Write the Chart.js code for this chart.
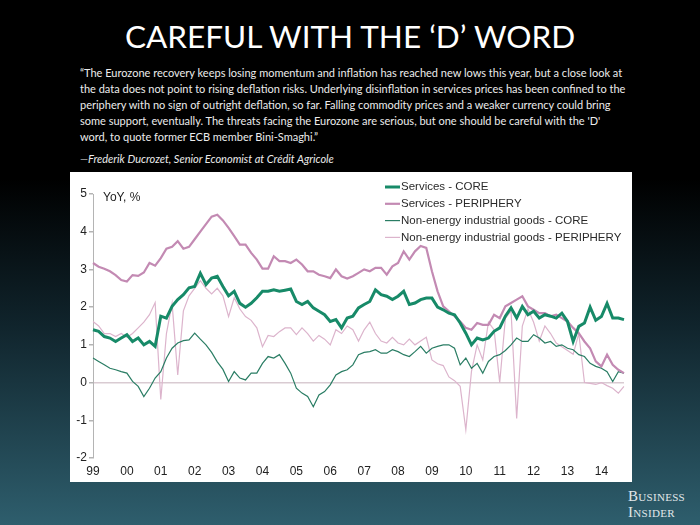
<!DOCTYPE html>
<html>
<head>
<meta charset="utf-8">
<script src="https://cdn.jsdelivr.net/npm/chart.js@4.4.0/dist/chart.umd.min.js"></script>
<style>
  html, body { margin: 0; padding: 0; }
  body {
    width: 700px; height: 525px; overflow: hidden; position: relative;
    background: linear-gradient(to bottom, #000 0%, #000 34%, #10242c 62%, #2e5e6d 100%);
    font-family: Lato, "Open Sans", sans-serif;
  }
  #title { position: absolute; top: 17px; left: 0; width: 700px; text-align: center; color: #fff; font-size: 31.5px; }
  #quote { position: absolute; left: 80px; top: 65px; color: #ececec; font-size: 11px; line-height: 16px; white-space: nowrap; }
  #source { position: absolute; left: 80px; top: 152px; color: #ececec; font-size: 11px; font-style: italic; }
  #panel { position: absolute; left: 70px; top: 172px; width: 562px; height: 310px; background: #fff; }
  #logo {
    position: absolute; left: 628px; top: 488px; color: #e2e8ea;
    font-family: "Liberation Serif", "DejaVu Serif", serif; font-variant: small-caps;
    font-size: 15px; line-height: 16px; letter-spacing: 0.3px;
  }
</style>
</head>
<body>
<div id="title">CAREFUL WITH THE ‘D’ WORD</div>
<div id="quote">“The Eurozone recovery keeps losing momentum and inflation has reached new lows this year, but a close look at<br>
the data does not point to rising deflation risks. Underlying disinflation in services prices has been confined to the<br>
periphery with no sign of outright deflation, so far. Falling commodity prices and a weaker currency could bring<br>
some support, eventually. The threats facing the Eurozone are serious, but one should be careful with the 'D'<br>
word, to quote former ECB member Bini-Smaghi.”</div>
<div id="source">—Frederik Ducrozet, Senior Economist at Crédit Agricole</div>
<div id="panel"><canvas id="grafico" width="562" height="310"></canvas></div>
<div id="logo">Business<br>Insider</div>

<script>
// categorias: cada dos meses, ene 1999 - sep 2014
const years = ['99','00','01','02','03','04','05','06','07','08','09','10','11','12','13','14'];
const months = ['Jan','Mar','May','Jul','Sep','Nov'];

// valores YoY, %
const servicesCore = [
  1.40, 1.36, 1.22, 1.18, 1.09, 1.18,
  1.27, 1.09, 1.18, 1.00, 1.09, 0.96,
  1.76, 1.71, 2.02, 2.20, 2.33, 2.51,
  2.55, 2.90, 2.60, 2.77, 2.82, 2.55,
  2.30, 2.42, 2.10, 2.00, 2.10, 2.25,
  2.42, 2.42, 2.46, 2.42, 2.45, 2.48,
  2.15, 2.07, 2.15, 1.98, 1.89, 1.80,
  1.62, 1.67, 1.45, 1.71, 1.76, 1.98,
  2.07, 2.15, 2.46, 2.33, 2.29, 2.20,
  2.29, 2.42, 2.07, 2.11, 2.20, 2.24,
  2.24, 2.00, 1.93, 1.84, 1.80, 1.58,
  1.31, 1.00, 1.18, 1.13, 1.18, 1.36,
  1.45, 1.76, 1.98, 1.71, 2.02, 1.80,
  1.89, 1.71, 1.80, 1.76, 1.71, 1.84,
  1.62, 1.09, 1.49, 1.58, 2.00, 1.65,
  1.75, 2.10, 1.71, 1.71, 1.67
];
const servicesPeriphery = [
  3.17, 3.07, 3.02, 2.95, 2.85, 2.72,
  2.68, 2.85, 2.83, 2.92, 3.17, 3.10,
  3.30, 3.55, 3.60, 3.75, 3.55, 3.60,
  3.80, 4.00, 4.20, 4.40, 4.45, 4.30,
  4.10, 3.88, 3.66, 3.66, 3.44, 3.26,
  3.02, 3.02, 3.35, 3.22, 3.22, 3.17,
  3.26, 3.13, 2.95, 2.95, 2.86, 2.82,
  2.77, 3.00, 2.82, 2.76, 2.82, 2.91,
  3.00, 2.95, 3.04, 3.04, 2.86, 3.08,
  3.17, 3.48, 3.26, 3.48, 3.62, 3.57,
  2.95, 2.42, 2.02, 1.89, 1.76, 1.62,
  1.45, 1.40, 1.58, 1.53, 1.53, 1.80,
  1.71, 2.02, 2.11, 2.20, 2.29, 2.02,
  1.93, 1.84, 1.84, 1.76, 1.80, 1.71,
  1.62, 1.45, 1.31, 1.09, 0.91, 0.56,
  0.43, 0.74, 0.47, 0.34, 0.25
];
const goodsCore = [
  0.65, 0.56, 0.47, 0.38, 0.34, 0.29,
  0.25, 0.03, -0.10, -0.37, -0.15, 0.12,
  0.29, 0.65, 0.91, 1.05, 1.11, 1.13,
  1.31, 1.15, 1.00, 0.80, 0.55, 0.35,
  0.03, 0.29, 0.12, 0.07, 0.25, 0.25,
  0.51, 0.69, 0.65, 0.74, 0.51, 0.25,
  -0.15, -0.28, -0.37, -0.64, -0.33, -0.24,
  -0.06, 0.20, 0.29, 0.34, 0.47, 0.74,
  0.80, 0.82, 0.87, 0.78, 0.78, 0.87,
  0.82, 0.74, 0.69, 0.82, 0.96, 0.78,
  0.91, 0.96, 1.00, 1.00, 0.91, 0.47,
  0.65, 0.38, 0.51, 0.25, 0.56, 0.69,
  0.74, 0.85, 1.00, 1.18, 1.09, 1.09,
  1.27, 1.18, 1.05, 1.09, 0.96, 1.00,
  0.91, 0.87, 0.74, 0.69, 0.51, 0.43,
  0.38, 0.29, 0.03, 0.29, 0.25
];
const goodsPeriphery = [
  1.62, 1.50, 1.30, 1.30, 1.22, 1.30,
  1.20, 1.30, 1.45, 1.60, 1.80, 2.12,
  -0.45, 1.30, 2.10, 0.20, 1.90, 2.30,
  2.50, 2.70, 2.50, 2.35, 2.50, 2.30,
  1.75, 2.25, 1.95, 1.75, 1.65, 1.45,
  0.95, 1.25, 1.22, 1.35, 1.45, 1.45,
  1.27, 1.45, 1.30, 1.10, 1.25, 1.15,
  1.00, 1.40, 1.30, 1.50, 1.40, 1.10,
  1.40, 1.60, 1.30, 1.10, 1.05, 1.20,
  1.05, 1.00, 1.15, 1.00, 1.10, 1.20,
  0.60, 0.50, 0.45, 0.15, 0.05, -0.10,
  -1.25, 0.30, 1.00, 0.60, 1.60, 1.40,
  0.00, 1.70, 1.90, -0.95, 1.50, 1.95,
  1.60, 1.10, 1.50, 1.30, 1.05, 0.95,
  0.85, 0.75, 1.30, 0.00, -0.02, -0.05,
  0.00, -0.08, -0.15, -0.28, -0.10
];

const etiquetas = [];
years.forEach(function(y){ months.forEach(function(m){ etiquetas.push(m + ' ' + y); }); });
etiquetas.length = servicesCore.length;

const fuente = '"Liberation Sans", Arial, sans-serif';

// leyenda dentro del grafico + "YoY, %"
const leyenda = {
  id: 'leyenda',
  afterDraw: function(chart){
    const ctx = chart.ctx;
    const area = chart.chartArea;
    ctx.save();
    ctx.font = '12px ' + fuente;
    ctx.textBaseline = 'middle';
    ctx.fillStyle = '#222';
    ctx.fillText('YoY, %', area.left + 10, area.top + 4);
    ctx.font = '11.5px ' + fuente;
    chart.data.datasets.forEach(function(ds, i){
      const y = 15 + i * 16.8;
      ctx.strokeStyle = ds.borderColor;
      ctx.lineWidth = ds.borderWidth;
      ctx.beginPath();
      ctx.moveTo(315, y);
      ctx.lineTo(330, y);
      ctx.stroke();
      ctx.fillStyle = '#2a2a2a';
      ctx.fillText(ds.label, 331, y);
    });
    ctx.restore();
  }
};

const config = {
  type: 'line',
  data: {
    labels: etiquetas,
    datasets: [
      { label: 'Services - CORE', data: servicesCore, borderColor: '#178a68', borderWidth: 3 },
      { label: 'Services - PERIPHERY', data: servicesPeriphery, borderColor: '#c38ab3', borderWidth: 2.2 },
      { label: 'Non-energy industrial goods - CORE', data: goodsCore, borderColor: '#2a7d64', borderWidth: 1.2 },
      { label: 'Non-energy industrial goods - PERIPHERY', data: goodsPeriphery, borderColor: '#dcb4cc', borderWidth: 1.2 }
    ]
  },
  options: {
    responsive: false,
    animation: false,
    devicePixelRatio: 1,
    elements: { point: { radius: 0 }, line: { tension: 0, fill: false } },
    layout: { padding: { left: 5, right: 8, top: 22, bottom: 0 } },
    plugins: { legend: { display: false }, tooltip: { enabled: false } },
    scales: {
      x: {
        grid: { display: false, drawTicks: false },
        border: { display: false },
        afterFit: function(scale){ scale.height = 24; },
        ticks: {
          autoSkip: false, maxRotation: 0, padding: 6,
          color: '#222', font: { family: fuente, size: 12 },
          callback: function(value, index){ return index % 6 === 0 ? years[index / 6] : ''; }
        }
      },
      y: {
        min: -2, max: 5,
        afterFit: function(scale){ scale.width = 18; },
        border: { display: true, color: '#b4b4b4', width: 1 },
        grid: {
          color: function(c){ return c.tick && c.tick.value === 0 ? '#d9cbd2' : 'rgba(0,0,0,0)'; },
          lineWidth: 1.5,
          tickColor: '#b4b4b4',
          tickLength: 4
        },
        ticks: {
          stepSize: 1, padding: 2,
          color: '#222', font: { family: fuente, size: 12 }
        }
      }
    }
  },
  plugins: [leyenda]
};

const grafico = new Chart(document.getElementById('grafico'), config);
</script>
</body>
</html>
